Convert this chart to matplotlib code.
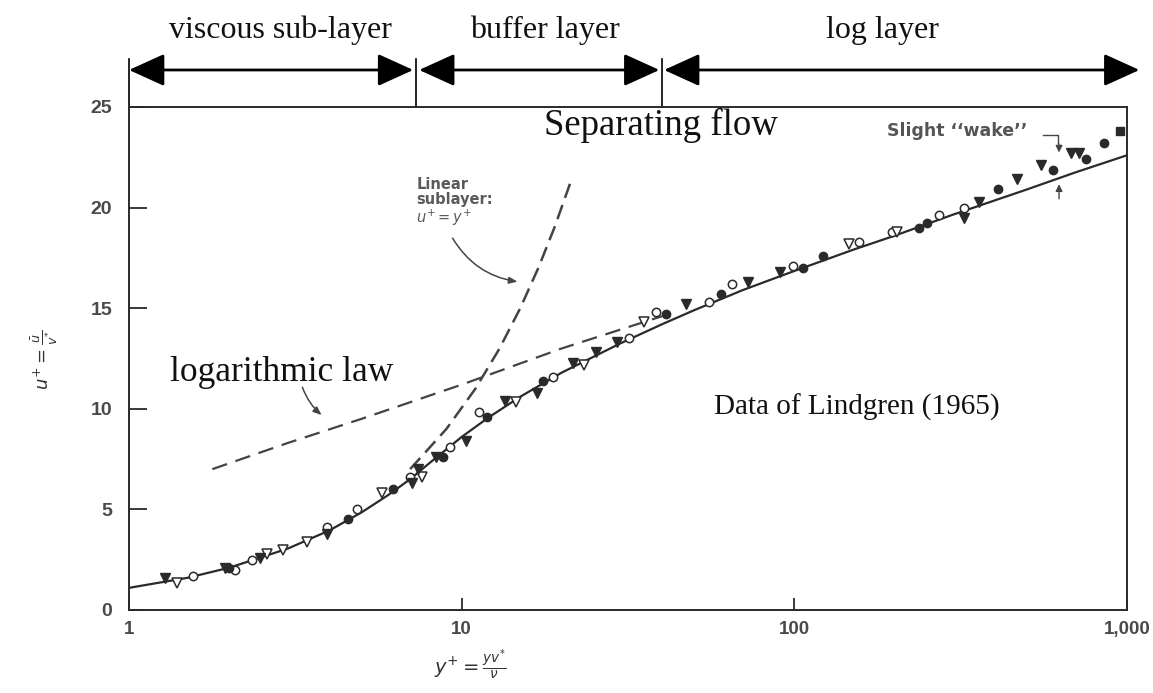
import numpy as np
import matplotlib
matplotlib.use("Agg")
import matplotlib.pyplot as plt
import matplotlib.transforms as mtransforms

# values (y+ , u+)
curve_y = [1, 1.5, 2, 3, 4, 5, 6, 7, 8, 10, 12, 15, 20, 30, 40, 50, 70, 100, 150, 200, 300, 500, 700, 1000]
curve_u = [1.1, 1.6, 2.1, 3.05, 3.95, 4.85, 5.7, 6.5, 7.3, 8.6, 9.55, 10.6, 11.8, 13.25, 14.2, 14.9,
           15.9, 16.85, 17.9, 18.6, 19.65, 20.9, 21.75, 22.6]

loglaw_y = [1.78, 3, 5, 10, 20, 40]
loglaw_u = [7.0, 8.3, 9.5, 11.2, 13.0, 14.6]

linear_y = [7, 9, 11, 13, 15, 17, 19, 21.5]
linear_u = [7, 9, 11, 13, 15, 17, 19, 21.5]

open_circ_y = [1.56, 2.08, 2.34, 3.93, 4.84, 7.0, 9.2, 11.3, 18.8, 31.9, 38.4, 55.5, 64.8, 98.9, 157, 196, 272, 324]
open_circ_u = [1.7, 2.0, 2.5, 4.1, 5.0, 6.6, 8.1, 9.85, 11.6, 13.5, 14.8, 15.3, 16.2, 17.1, 18.3, 18.8, 19.65, 20.0]

fill_circ_y = [2.0, 4.54, 6.2, 8.8, 11.9, 17.5, 41.1, 60.4, 106, 122, 237, 250, 411, 600, 754, 851]
fill_circ_u = [2.1, 4.5, 6.0, 7.6, 9.6, 11.4, 14.7, 15.7, 17.0, 17.6, 19.0, 19.25, 20.9, 21.85, 22.4, 23.2]

open_tri_y = [1.39, 2.6, 2.9, 3.42, 5.75, 7.6, 14.6, 23.4, 35.3, 146, 203]
open_tri_u = [1.35, 2.8, 3.0, 3.4, 5.8, 6.6, 10.35, 12.2, 14.3, 18.2, 18.8]

fill_tri_y = [1.28, 1.94, 2.47, 3.93, 7.07, 7.4, 8.4, 10.3, 13.5, 16.8, 21.6, 25.4, 29.4, 47.3, 72.6, 90.4, 324, 358, 467, 553, 679, 718]
fill_tri_u = [1.6, 2.1, 2.6, 3.8, 6.3, 7.0, 7.6, 8.4, 10.4, 10.8, 12.3, 12.8, 13.3, 15.2, 16.3, 16.8, 19.5, 20.3, 21.4, 22.1, 22.7, 22.7]

square_y = [953]
square_u = [23.8]

region_edges = [1, 7.3, 40]
region_arrows = [(1, 7.15), (7.45, 39.3), (40.6, 1090)]
region_names = ["viscous sub-layer", "buffer layer", "log layer"]
region_name_x = [0.152, 0.417, 0.755]

xticks = [1, 10, 100, 1000]
xtick_labels = ["1", "10", "100", "1,000"]
yticks = [0, 5, 10, 15, 20, 25]

ink = "#2a2a2a"
serif = "Liberation Serif"
sans = "Liberation Sans"

fig = plt.figure(figsize=(11.53, 6.93), dpi=100)
ax = fig.add_axes([0.1119, 0.1198, 0.8655, 0.7258])

ax.plot(curve_y, curve_u, color=ink, lw=1.6, zorder=2)
ax.plot(loglaw_y, loglaw_u, color="#444444", lw=1.6, dashes=(7, 4), zorder=2)
ax.plot(linear_y, linear_u, color="#444444", lw=1.8, dashes=(6, 3), zorder=2)

ms = 6
ax.plot(open_circ_y, open_circ_u, "o", ms=ms, mfc="white", mec=ink, mew=1.1, ls="none", zorder=3)
ax.plot(fill_circ_y, fill_circ_u, "o", ms=ms, mfc=ink, mec=ink, ls="none", zorder=3)
ax.plot(open_tri_y, open_tri_u, "v", ms=ms + 1, mfc="white", mec=ink, mew=1.1, ls="none", zorder=3)
ax.plot(fill_tri_y, fill_tri_u, "v", ms=ms + 1, mfc=ink, mec=ink, ls="none", zorder=3)
ax.plot(square_y, square_u, "s", ms=ms - 0.5, mfc=ink, mec=ink, ls="none", zorder=3)

ax.set_xscale("log")
ax.set_xlim(1, 1000)
ax.set_ylim(0, 25)
ax.set_xticks(xticks)
ax.set_xticklabels(xtick_labels)
ax.set_yticks(yticks)
ax.minorticks_off()
ax.tick_params(axis="y", direction="in", length=13, width=1.3, pad=12,
               labelsize=14, labelcolor="#4a4a4a", color=ink)
ax.tick_params(axis="x", direction="in", length=9, width=1.3, pad=8,
               labelsize=13.5, labelcolor="#4a4a4a", color=ink)
for lab in ax.get_xticklabels() + ax.get_yticklabels():
    lab.set_fontfamily(sans)
    lab.set_fontweight("bold")
for sp in ax.spines.values():
    sp.set_linewidth(1.4)
    sp.set_color(ink)

# region arrows above the axes
trans = mtransforms.blended_transform_factory(ax.transData, ax.transAxes)
for x in region_edges:
    ax.plot([x, x], [1.0, 1.095], transform=trans, color="black", lw=1.2, clip_on=False)
for (x0, x1), name, nx in zip(region_arrows, region_names, region_name_x):
    ax.annotate("", xy=(x1, 1.0736), xytext=(x0, 1.0736), xycoords=trans, textcoords=trans,
                arrowprops=dict(arrowstyle="<|-|>,head_length=1.1,head_width=0.5",
                                mutation_scale=20, color="black", lw=2,
                                shrinkA=0, shrinkB=0))
    ax.text(nx, 1.152, name, transform=ax.transAxes, ha="center", va="center",
            fontsize=23, family=serif, color="#111111")

# big annotations
ax.text(17.7, 24.1, "Separating flow", fontsize=26.5, family=serif, va="center", color="#111111")
ax.text(1.33, 11.8, "logarithmic law", fontsize=25.5, family=serif, va="center", color="#111111")
ax.text(57.5, 10.05, "Data of Lindgren (1965)", fontsize=21, family=serif, va="center", color="#111111")

# small labels from the original figure
ax.text(7.3, 21.5, "Linear\nsublayer:\n$u^{+} = y^{+}$", fontsize=10.5, family="DejaVu Sans",
        fontweight="bold", color="#5a5a5a", va="top", linespacing=1.0)
ax.annotate("", xy=(15.0, 16.3), xytext=(9.3, 18.6),
            arrowprops=dict(arrowstyle="-|>,head_length=0.5,head_width=0.2", color="#444444",
                            lw=1.1, connectionstyle="arc3,rad=0.25"))
ax.annotate("", xy=(3.85, 9.6), xytext=(3.3, 11.2),
            arrowprops=dict(arrowstyle="-|>,head_length=0.5,head_width=0.2", color="#444444",
                            lw=1.1, connectionstyle="arc3,rad=0.15"))
ax.text(190, 23.8, "Slight \u2018\u2018wake\u2019\u2019", fontsize=12.5, family="DejaVu Sans",
        fontweight="bold", color="#555555", va="center")
ax.plot([560, 622, 622], [23.6, 23.6, 23.2], color="#444444", lw=1)
ax.annotate("", xy=(625, 22.6), xytext=(625, 23.3),
            arrowprops=dict(arrowstyle="-|>,head_length=0.4,head_width=0.2", color="#444444", lw=1))
ax.annotate("", xy=(625, 21.3), xytext=(625, 20.3),
            arrowprops=dict(arrowstyle="-|>,head_length=0.4,head_width=0.2", color="#444444", lw=1))

# axis labels
fig.text(470 / 1153, 1 - 665 / 693, r"$y^{+} = \frac{y v^{*}}{\nu}$", fontsize=14,
         ha="center", va="center", color="#333333")
fig.text(45 / 1153, 1 - 360 / 693, r"$u^{+} = \frac{\bar{u}}{v^{*}}$", fontsize=13,
         ha="center", va="center", rotation=90, color="#333333")

fig.savefig("out.png", dpi=100, facecolor="white")
